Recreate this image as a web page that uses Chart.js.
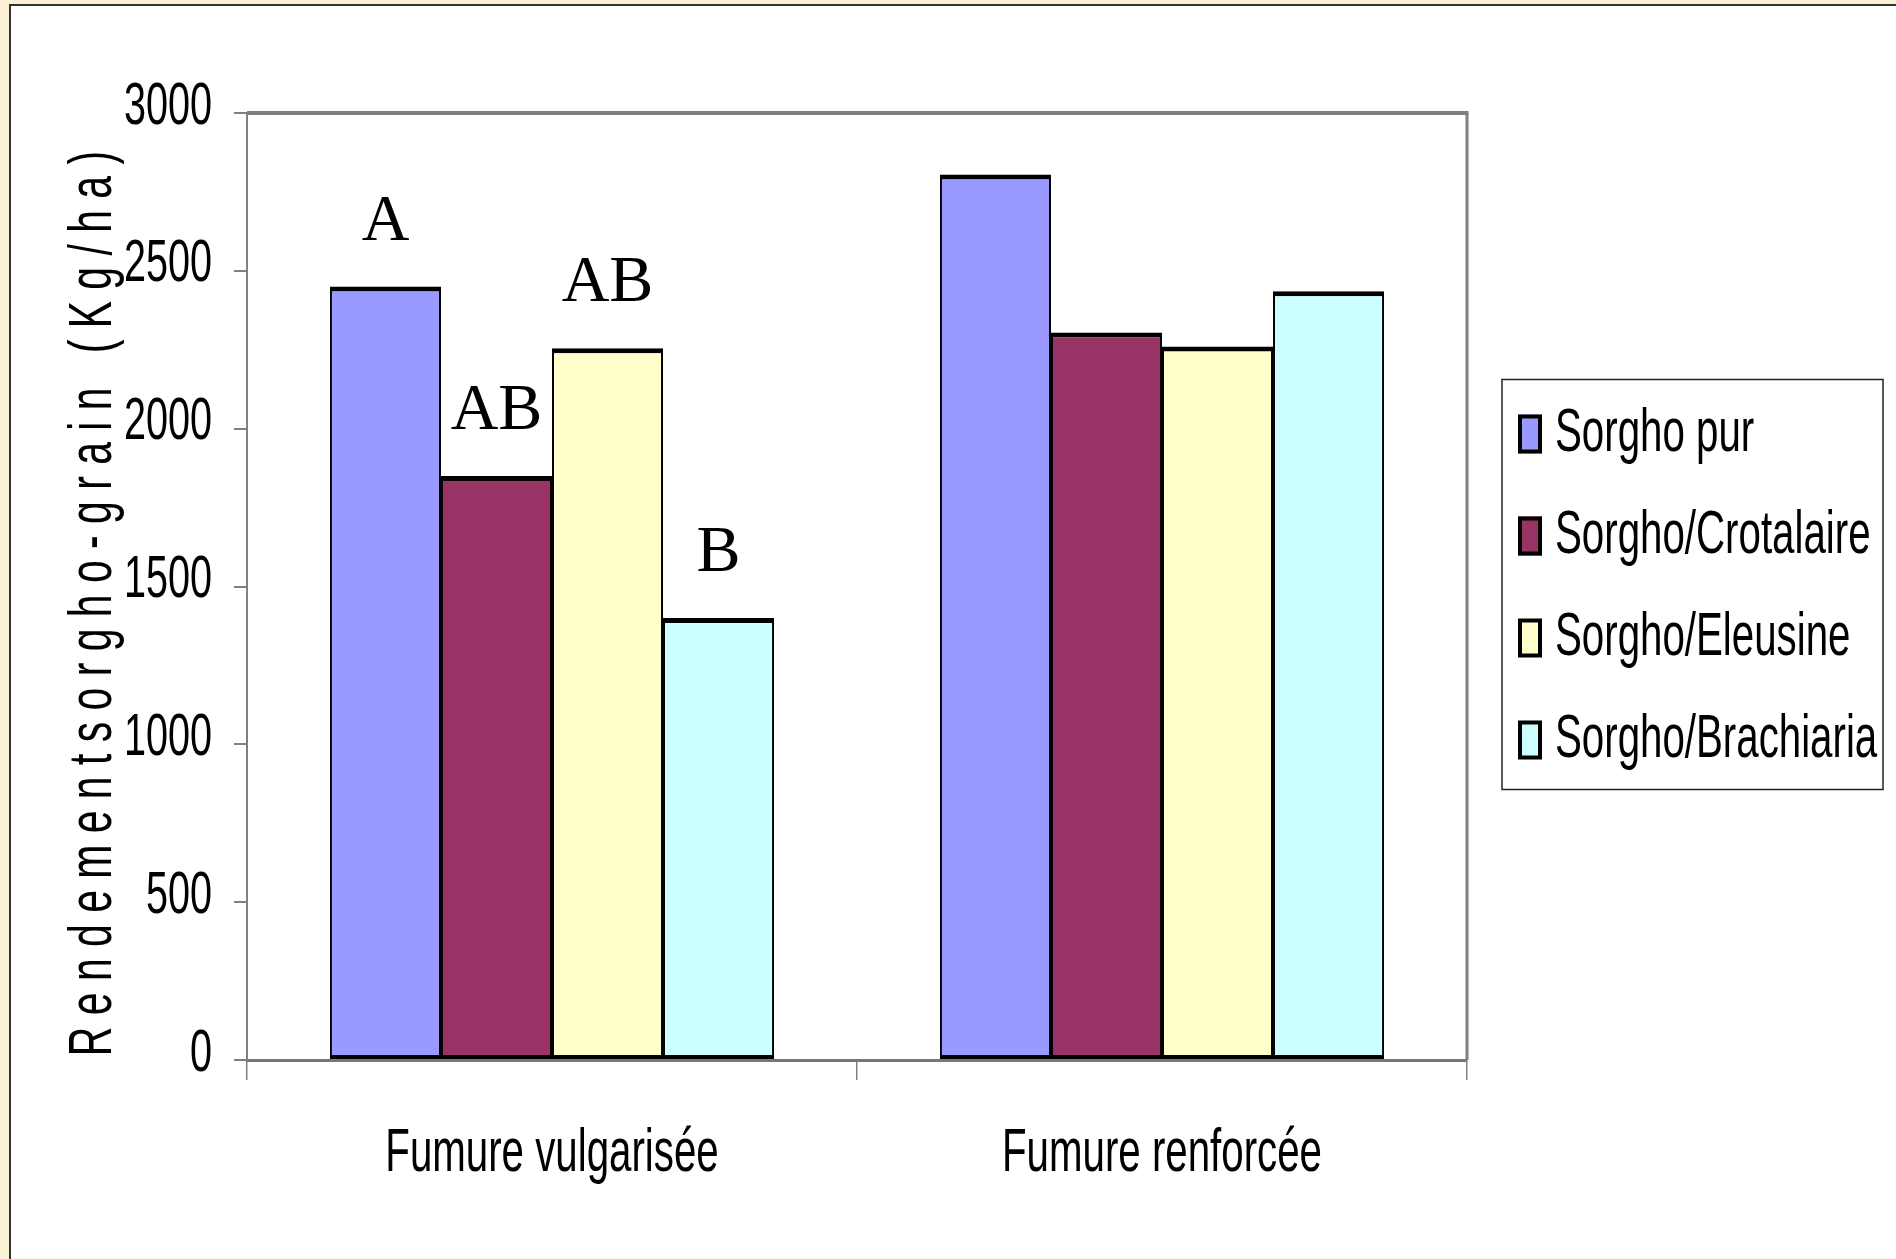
<!DOCTYPE html>
<html lang="fr">
<head>
    <meta charset="UTF-8">
    <title>Rendement sorgho-grain</title>
    <script src="https://cdn.jsdelivr.net/npm/chart.js"></script>
    <style>
        html, body {
            margin: 0;
            padding: 0;
        }

        body {
            width: 1896px;
            height: 1259px;
            overflow: hidden;
            position: relative;
            background-color: #fcf0d7;
        }

        /* white slide panel, cut by the right and bottom edges */
        .panel {
            position: absolute;
            left: 9px;
            top: 4px;
            width: 1900px;
            height: 1270px;
            background-color: #ffffff;
            border-left: 2px solid #333;
            border-top: 2px solid #333;
        }

        .chart-box {
            position: absolute;
            left: 0;
            top: 0;
            width: 1896px;
            height: 1259px;
        }
    </style>
</head>
<body>
    <div class="panel"></div>
    <div class="chart-box">
        <canvas id="chart"></canvas>
    </div>

    <script>
        // data (kg/ha)
        const categories = ['Fumure vulgarisée', 'Fumure renforcée'];
        const seriesNames = ['Sorgho pur', 'Sorgho/Crotalaire', 'Sorgho/Eleusine', 'Sorgho/Brachiaria'];
        const sorghoPur = [2450, 2805];
        const sorghoCrotalaire = [1850, 2305];
        const sorghoEleusine = [2255, 2260];
        const sorghoBrachiaria = [1400, 2435];
        const seriesColors = ['#9999ff', '#993366', '#ffffcc', '#ccffff'];

        // statistical group letters, only printed over the first category
        const lettersPur = ['A', ''];
        const lettersCrotalaire = ['AB', ''];
        const lettersEleusine = ['AB', ''];
        const lettersBrachiaria = ['B', ''];

        const yMin = 0;
        const yMax = 3000;
        const yStep = 500;
        // trailing spaces push the spaced-out title a little down the axis
        const yTitle = 'R e n d e m e n t s o r g h o - g r a i n   ( K g / h a )   ';

        const SANS = '"Liberation Sans", Arial, sans-serif';
        const SERIF = '"Liberation Serif", "Times New Roman", serif';
        const SQUASH = 0.66; // the original text is drawn very condensed

        // squeeze every text Chart.js draws along its own direction
        function squashText(ctx) {
            const fill = ctx.fillText.bind(ctx);
            const measure = ctx.measureText.bind(ctx);
            ctx.plainFillText = fill;
            ctx.fillText = function (text, x, y) {
                ctx.save();
                ctx.translate(x, y);
                ctx.scale(SQUASH, 1);
                fill(text, 0, 0);
                ctx.restore();
            };
            ctx.measureText = function (text) {
                const m = measure(text);
                return {
                    width: m.width * SQUASH,
                    actualBoundingBoxAscent: m.actualBoundingBoxAscent,
                    actualBoundingBoxDescent: m.actualBoundingBoxDescent
                };
            };
        }

        // gray top and right edge of the plot area
        const plotFrame = {
            id: 'plotFrame',
            beforeDatasetsDraw(chart) {
                const { ctx, chartArea } = chart;
                ctx.save();
                ctx.strokeStyle = '#808080';
                ctx.lineWidth = 4;
                ctx.beginPath();
                ctx.moveTo(chartArea.left, chartArea.top);
                ctx.lineTo(chartArea.right + 1.5, chartArea.top);
                ctx.stroke();
                ctx.lineWidth = 3;
                ctx.beginPath();
                ctx.moveTo(chartArea.right, chartArea.top);
                ctx.lineTo(chartArea.right, chartArea.bottom);
                ctx.stroke();
                ctx.restore();
            }
        };

        // letters above the bars
        const groupLetters = {
            id: 'groupLetters',
            afterDatasetsDraw(chart) {
                const ctx = chart.ctx;
                ctx.save();
                ctx.font = '66px ' + SERIF;
                ctx.fillStyle = '#000';
                ctx.textAlign = 'center';
                ctx.textBaseline = 'alphabetic';
                chart.data.datasets.forEach((ds, i) => {
                    chart.getDatasetMeta(i).data.forEach((bar, j) => {
                        const txt = ds.letters[j];
                        if (txt) ctx.plainFillText(txt, bar.x, bar.y - 47);
                    });
                });
                ctx.restore();
            }
        };

        // boxed legend on the right, like the original
        const boxLegend = {
            id: 'boxLegend',
            afterDraw(chart) {
                const { ctx, chartArea } = chart;
                const left = chartArea.right + 35;
                const width = 381;
                const height = 410;
                const top = (chartArea.top + chartArea.bottom) / 2 - height / 2 - 2;
                ctx.save();
                ctx.strokeStyle = '#222';
                ctx.lineWidth = 1.5;
                ctx.strokeRect(left, top, width, height);
                ctx.font = '61px ' + SANS;
                ctx.textAlign = 'left';
                ctx.textBaseline = 'alphabetic';
                chart.data.datasets.forEach((ds, i) => {
                    const y = top + 35 + i * 102;
                    ctx.fillStyle = ds.backgroundColor;
                    ctx.fillRect(left + 16, y, 24, 39);
                    ctx.strokeStyle = '#000';
                    ctx.lineWidth = 4;
                    ctx.strokeRect(left + 18, y + 2, 20, 35);
                    ctx.fillStyle = '#000';
                    ctx.fillText(ds.label, left + 53, y + 36);
                });
                ctx.restore();
            }
        };

        Chart.defaults.font.family = SANS;
        Chart.defaults.color = '#000';

        const canvas = document.getElementById('chart');
        const ctx = canvas.getContext('2d');
        squashText(ctx);

        const seriesValues = [sorghoPur, sorghoCrotalaire, sorghoEleusine, sorghoBrachiaria];
        const seriesLetters = [lettersPur, lettersCrotalaire, lettersEleusine, lettersBrachiaria];

        new Chart(ctx, {
            type: 'bar',
            data: {
                labels: categories,
                datasets: seriesNames.map((name, i) => ({
                    label: name,
                    data: seriesValues[i],
                    letters: seriesLetters[i],
                    backgroundColor: seriesColors[i],
                    borderColor: '#000',
                    borderWidth: { top: 5, left: 2, right: 2, bottom: 4 },
                    borderSkipped: false,
                    barPercentage: 1,
                    categoryPercentage: 0.728
                }))
            },
            options: {
                responsive: true,
                maintainAspectRatio: false,
                animation: false,
                layout: {
                    padding: { left: 0, top: 113, right: 429, bottom: 0 }
                },
                plugins: {
                    legend: { display: false },
                    tooltip: { enabled: false }
                },
                scales: {
                    x: {
                        grid: {
                            offset: true,
                            drawOnChartArea: false,
                            tickLength: 20,
                            color: '#808080',
                            lineWidth: 1.5
                        },
                        border: { color: '#777', width: 3 },
                        ticks: {
                            padding: 38,
                            maxRotation: 0,
                            font: { size: 61 }
                        },
                        afterFit(scale) { scale.height = 199; }
                    },
                    y: {
                        min: yMin,
                        max: yMax,
                        ticks: {
                            stepSize: yStep,
                            padding: 22,
                            labelOffset: -6,
                            font: { size: 60 },
                            callback: (value) => String(value)
                        },
                        grid: {
                            drawOnChartArea: false,
                            tickLength: 13,
                            color: '#808080',
                            lineWidth: 2
                        },
                        border: { color: '#808080', width: 2 },
                        title: {
                            display: true,
                            text: yTitle,
                            font: { size: 62 },
                            padding: { top: 57, bottom: 0 }
                        },
                        afterFit(scale) { scale.width = 247; }
                    }
                }
            },
            plugins: [plotFrame, groupLetters, boxLegend]
        });
    </script>
</body>
</html>
